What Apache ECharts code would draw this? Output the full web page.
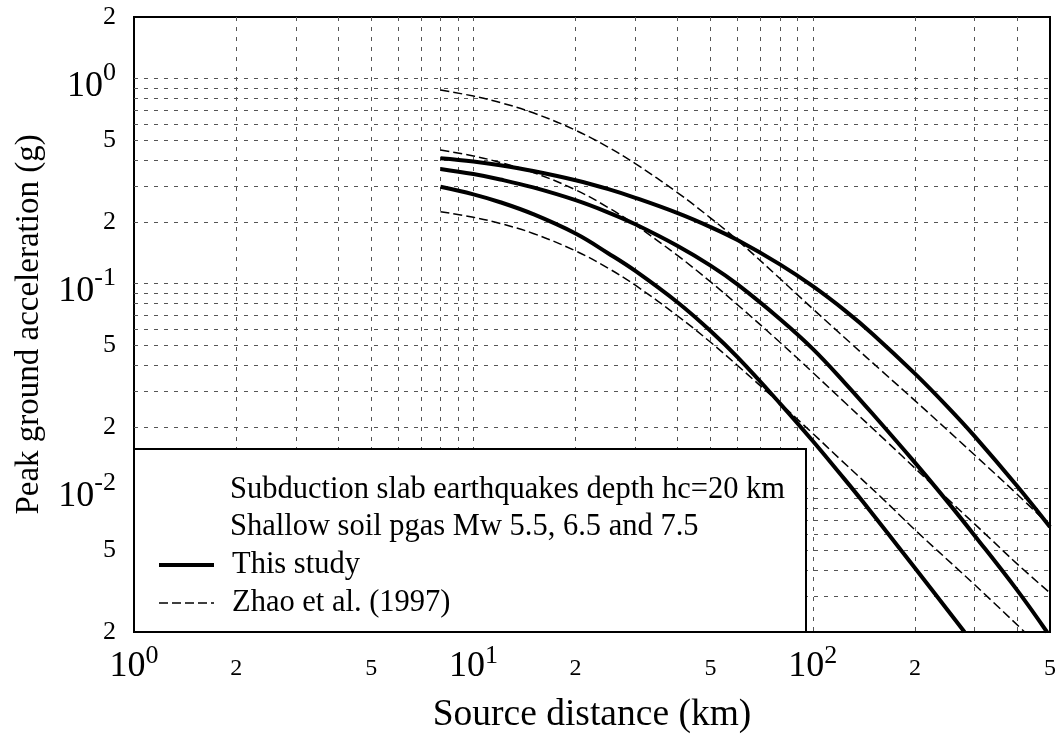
<!DOCTYPE html>
<html><head><meta charset="utf-8">
<script src="https://cdn.jsdelivr.net/npm/echarts@6/dist/echarts.min.js"></script>
<style>html,body{margin:0;padding:0;background:#fff}#c{width:1060px;height:736px}</style>
</head><body><div id="c"></div>
<script>
// ---- tick labels and grid lines ----
const xTickLabels = [1, 2, 5, 10, 20, 50, 100, 200, 500];
const yTickLabels = [0.002, 0.005, 0.01, 0.02, 0.05, 0.1, 0.2, 0.5, 1, 2];
const xGridValues = [2,3,4,5,6,7,8,9,10,20,30,40,50,60,70,80,90,100,200,300,400];
const yGridValues = [0.003,0.004,0.005,0.006,0.007,0.008,0.009,0.01,0.02,0.03,0.04,0.05,0.06,0.07,0.08,0.09,0.1,0.2,0.3,0.4,0.5,0.6,0.7,0.8,0.9,1];

// ---- This study (thick solid) ----
const thisM75Dist = [8, 10, 12, 15, 20, 25, 30, 40, 50, 60, 80, 100, 125, 150, 200, 250, 300, 400, 500];
const thisM75Pga  = [0.409, 0.3946, 0.3784, 0.3547, 0.3197, 0.2891, 0.2623, 0.2208, 0.1888, 0.1632, 0.1242, 0.0972, 0.0735, 0.0569, 0.0364, 0.025, 0.018, 0.0103, 0.0065];
const thisM65Dist = [8, 10, 12, 15, 20, 25, 30, 40, 50, 60, 80, 100, 125, 150, 200, 250, 300, 400, 490];
const thisM65Pga  = [0.363, 0.3426, 0.3224, 0.2949, 0.2555, 0.2224, 0.195, 0.1528, 0.1225, 0.0992, 0.0673, 0.0481, 0.0325, 0.0232, 0.0134, 0.0086, 0.0059, 0.0032, 0.002];
const thisM55Dist = [8, 10, 12, 15, 20, 25, 30, 40, 50, 60, 80, 100, 120, 140, 200, 280];
const thisM55Pga  = [0.297, 0.2729, 0.2497, 0.2184, 0.1757, 0.1405, 0.1155, 0.081, 0.0588, 0.0438, 0.0261, 0.0171, 0.0119, 0.0087, 0.0041, 0.002];

// ---- Zhao et al. (1997) (thin dashed) ----
const zhaoM75Dist = [8, 10, 12, 15, 20, 25, 30, 40, 50, 60, 80, 100, 130, 160, 200, 300, 400, 500];
const zhaoM75Pga  = [0.88, 0.8229, 0.7651, 0.6818, 0.5606, 0.4625, 0.3853, 0.2775, 0.2091, 0.1631, 0.106, 0.0754, 0.0509, 0.0374, 0.0269, 0.0146, 0.0094, 0.0066];
const zhaoM65Dist = [8, 10, 12, 15, 20, 25, 30, 40, 50, 60, 80, 100, 125, 165, 200, 250, 330, 400, 500];
const zhaoM65Pga  = [0.449, 0.4199, 0.3903, 0.349, 0.287, 0.2348, 0.1935, 0.137, 0.1021, 0.079, 0.0518, 0.0369, 0.0261, 0.017, 0.0126, 0.0089, 0.0058, 0.0043, 0.0031];
const zhaoM55Dist = [8, 10, 12, 15, 20, 25, 30, 40, 50, 60, 80, 100, 120, 160, 200, 300, 421];
const zhaoM55Pga  = [0.2245, 0.2109, 0.1967, 0.1759, 0.1446, 0.1188, 0.0983, 0.0696, 0.0518, 0.0399, 0.0261, 0.0186, 0.014, 0.009, 0.0063, 0.0034, 0.002];

const FONT = "'Liberation Serif','DejaVu Serif',serif";

function pairs(xs, ys) { return xs.map((x, i) => [x, ys[i]]); }
function fmt(v) {
  const e = Math.round(Math.log10(v));
  const p = Math.pow(10, e);
  if (Math.abs(v - p) < 1e-6 * p) return '{b|10}{s|' + e + '}';
  const m = Math.round(v / Math.pow(10, Math.floor(Math.log10(v) + 1e-9)));
  return '{m|' + m + '}';
}
const xRich = {
  b: { fontFamily: FONT, fontSize: 36, lineHeight: 48, color: '#000' },
  s: { fontFamily: FONT, fontSize: 26, lineHeight: 22, verticalAlign: 'top', color: '#000' },
  m: { fontFamily: FONT, fontSize: 24, lineHeight: 48, padding: [4, 0, 0, 0], color: '#000' }
};
const yRich = {
  b: { fontFamily: FONT, fontSize: 36, lineHeight: 48, padding: [16, 0, 0, 0], color: '#000' },
  s: { fontFamily: FONT, fontSize: 26, lineHeight: 20, verticalAlign: 'top', padding: [5, 0, 0, 0], color: '#000' },
  m: { fontFamily: FONT, fontSize: 26, lineHeight: 48, padding: [8, 0, 8, 0], color: '#000' }
};
const thick = { color: '#000', width: 4, type: 'solid' };
const thin = { color: '#000', width: 1.5, type: [9, 4] };
function mk(name, xs, ys, ls) {
  return { name: name, type: 'line', data: pairs(xs, ys), symbol: 'none', showSymbol: false,
    smooth: 0.4, lineStyle: ls, itemStyle: { color: '#000' }, z: 3 };
}

const chart = echarts.init(document.getElementById('c'), null, { renderer: 'canvas' });
chart.setOption({
  backgroundColor: '#fff',
  animation: false,
  grid: { left: 134, right: 10, top: 17, bottom: 104, show: true, borderColor: '#000', borderWidth: 2,
    backgroundColor: 'transparent', containLabel: false, outerBoundsMode: 'none' },
  xAxis: {
    type: 'log', logBase: 10, min: 1, max: 500,
    name: 'Source distance (km)', nameLocation: 'middle', nameGap: 64,
    nameTextStyle: { fontFamily: FONT, fontSize: 37.5, color: '#000' },
    axisLine: { show: false },
    axisTick: { show: false, customValues: xGridValues },
    splitLine: { show: true, lineStyle: { color: '#555', width: 1, type: [4, 6] } },
    axisLabel: { customValues: xTickLabels, formatter: fmt, margin: 11, fontSize: 24, fontFamily: FONT, rich: xRich, color: '#000' }
  },
  yAxis: {
    type: 'log', logBase: 10, min: 0.002, max: 2,
    name: 'Peak ground acceleration (g)', nameLocation: 'middle', nameGap: 88,
    nameTextStyle: { fontFamily: FONT, fontSize: 33, color: '#000' },
    axisLine: { show: false },
    axisTick: { show: false, customValues: yGridValues },
    splitLine: { show: true, lineStyle: { color: '#555', width: 1, type: [4, 6] } },
    axisLabel: { customValues: yTickLabels, formatter: fmt, margin: 18, fontSize: 26, fontFamily: FONT, rich: yRich, color: '#000' }
  },
  legend: {
    data: [
      { name: 'This study', lineStyle: { width: 4, type: 'solid', color: '#000' } },
      { name: 'Zhao et al. (1997)', lineStyle: { width: 1.5, type: [9, 4], color: '#000' } }
    ],
    orient: 'vertical', left: 152, top: 541, itemWidth: 55, itemHeight: 14, itemGap: 0,
    selectedMode: false, z: 10,
    itemStyle: { opacity: 0, color: 'transparent', borderColor: 'transparent' },
    textStyle: { fontFamily: FONT, fontSize: 30.5, color: '#000', lineHeight: 38, padding: [0, 0, 0, 13] }
  },
  graphic: [
    { type: 'rect', z: 5, shape: { x: 134, y: 449, width: 672, height: 183 }, style: { fill: '#fff', stroke: '#000', lineWidth: 2 } },
    { type: 'text', z: 6, x: 230, y: 490, style: { text: 'Subduction slab earthquakes depth hc=20 km', fontFamily: FONT, fontSize: 30.5, fill: '#000', verticalAlign: 'middle' } },
    { type: 'text', z: 6, x: 230, y: 527, style: { text: 'Shallow soil pgas Mw 5.5, 6.5 and 7.5', fontFamily: FONT, fontSize: 30.5, fill: '#000', verticalAlign: 'middle' } }
  ],
  series: [
    mk('This study', thisM75Dist, thisM75Pga, thick),
    mk('This study', thisM65Dist, thisM65Pga, thick),
    mk('This study', thisM55Dist, thisM55Pga, thick),
    mk('Zhao et al. (1997)', zhaoM75Dist, zhaoM75Pga, thin),
    mk('Zhao et al. (1997)', zhaoM65Dist, zhaoM65Pga, thin),
    mk('Zhao et al. (1997)', zhaoM55Dist, zhaoM55Pga, thin)
  ]
});
</script></body></html>
